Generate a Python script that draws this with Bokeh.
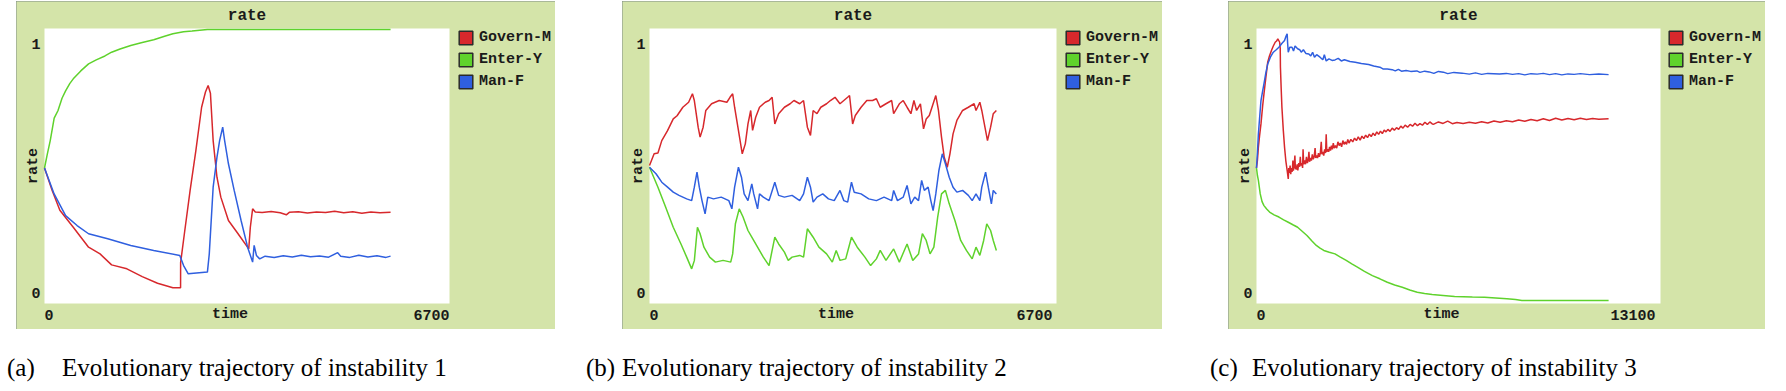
import math
import numpy as np
from bokeh.plotting import figure
from bokeh.models import Range1d, Legend, LegendItem, Div, BoxAnnotation
from bokeh.layouts import row, column
from bokeh.embed import file_html
from bokeh.resources import INLINE
from bokeh.core.properties import value

# ---------------- data (time, rate) ----------------
series_names = ["Govern-M", "Enter-Y", "Man-F"]
x_max = [6700, 6700, 13100]
y_ticks = [0, 1]
plot_title = "rate"
x_label = "time"
y_label = "rate"
captions = ["Evolutionary trajectory of instability 1",
            "Evolutionary trajectory of instability 2",
            "Evolutionary trajectory of instability 3"]
caption_tags = ["(a)", "(b)", "(c)"]

a_gov = [(0, .50), (127, .41), (254, .33), (476, .262), (729, .182), (919, .155), (1110, .111),
         (1363, .095), (1617, .064), (1870, .037), (2124, .019), (2251, .019), (2252, .12),
         (2314, .236), (2409, .41), (2504, .57), (2599, .744), (2663, .805), (2707, .831),
         (2745, .80), (2790, .61), (2853, .463), (2917, .383), (3043, .289), (3202, .236),
         (3379, .175), (3405, .262), (3443, .336), (3487, .323), (3600, .321), (3750, .325),
         (3900, .320), (4000, .312), (4050, .322), (4200, .324), (4350, .319), (4500, .323),
         (4650, .321), (4800, .326), (4950, .320), (5100, .324), (5250, .318), (5400, .323),
         (5550, .320), (5725, .322)]
a_ent = [(0, .50), (50, .56), (95, .61), (160, .70), (222, .73), (290, .78), (349, .81), (420, .84),
         (476, .858), (600, .89), (729, .918), (856, .934), (1000, .95), (1110, .965), (1250, .978),
         (1427, .992), (1600, 1.003), (1807, 1.015), (2000, 1.03), (2124, 1.039), (2300, 1.047),
         (2441, 1.05), (2695, 1.056), (5725, 1.056)]
a_man = [(0, .50), (159, .396), (349, .309), (539, .269), (729, .236), (1046, .216), (1427, .189),
         (1807, .169), (2238, .149), (2301, .108), (2378, .075), (2695, .082), (2726, .155),
         (2790, .423), (2853, .543), (2897, .61), (2948, .664), (2980, .61), (3043, .517),
         (3138, .41), (3252, .289), (3360, .182), (3443, .122), (3468, .189), (3506, .149),
         (3560, .135), (3650, .146), (3800, .141), (3950, .148), (4100, .143), (4250, .150),
         (4400, .144), (4550, .147), (4700, .142), (4850, .160), (4900, .146), (5050, .141),
         (5200, .150), (5350, .143), (5500, .148), (5650, .141), (5725, .146)]

b_gov = [(0, .51), (76, .557), (139, .56), (202, .61), (297, .65), (391, .697), (454, .71), (549, .744),
         (644, .764), (707, .798), (738, .771), (801, .664), (833, .624), (883, .664), (927, .731),
         (1022, .758), (1148, .771), (1274, .764), (1325, .784), (1369, .798), (1401, .744),
         (1464, .651), (1527, .557), (1577, .597), (1621, .677), (1666, .731), (1697, .651),
         (1748, .704), (1811, .744), (1905, .764), (1968, .771), (2019, .784), (2063, .677),
         (2126, .718), (2221, .744), (2315, .758), (2378, .771), (2473, .758), (2536, .771),
         (2599, .664), (2650, .631), (2694, .731), (2757, .718), (2820, .744), (2915, .758),
         (2978, .771), (3054, .784), (3136, .758), (3199, .771), (3262, .784), (3293, .791),
         (3344, .677), (3388, .711), (3483, .744), (3577, .771), (3672, .771), (3735, .778),
         (3798, .744), (3893, .758), (3987, .771), (4019, .718), (4113, .758), (4177, .771),
         (4240, .744), (4303, .718), (4353, .771), (4397, .731), (4460, .758), (4511, .657),
         (4555, .697), (4606, .711), (4669, .758), (4713, .791), (4757, .731), (4807, .624),
         (4852, .543), (4902, .503), (4946, .557), (4997, .637), (5060, .691), (5154, .731),
         (5249, .744), (5344, .758), (5375, .731), (5438, .764), (5470, .731), (5501, .691),
         (5564, .610), (5615, .664), (5659, .718), (5710, .731)]
b_ent = [(0, .503), (139, .423), (265, .343), (391, .262), (518, .195), (612, .142), (694, .095),
         (738, .128), (789, .262), (833, .236), (896, .182), (990, .142), (1085, .122), (1211, .129),
         (1337, .122), (1369, .155), (1414, .276), (1477, .336), (1540, .303), (1621, .249),
         (1684, .222), (1779, .182), (1874, .142), (1968, .108), (2063, .222), (2126, .195),
         (2221, .162), (2284, .129), (2347, .142), (2473, .149), (2536, .142), (2599, .256),
         (2694, .222), (2789, .182), (2915, .155), (3009, .122), (3073, .169), (3136, .129),
         (3230, .135), (3325, .222), (3420, .182), (3546, .142), (3640, .108), (3735, .135),
         (3798, .169), (3893, .129), (4019, .175), (4113, .122), (4240, .195), (4334, .129),
         (4429, .155), (4492, .236), (4555, .209), (4618, .155), (4681, .182), (4744, .303),
         (4807, .396), (4871, .410), (4934, .356), (5028, .289), (5123, .209), (5217, .169),
         (5312, .135), (5375, .182), (5438, .149), (5501, .209), (5552, .276), (5615, .249),
         (5659, .209), (5710, .169)]
b_man = [(0, .503), (107, .477), (202, .443), (297, .423), (391, .403), (486, .390), (612, .376),
         (694, .369), (738, .423), (782, .483), (820, .423), (864, .369), (915, .316), (959, .383),
         (1054, .376), (1180, .383), (1306, .369), (1356, .336), (1401, .423), (1464, .503),
         (1514, .463), (1558, .396), (1621, .369), (1684, .436), (1716, .396), (1779, .336),
         (1811, .396), (1874, .383), (1968, .369), (2063, .443), (2126, .390), (2221, .383),
         (2347, .390), (2473, .369), (2536, .396), (2599, .463), (2650, .423), (2694, .363),
         (2757, .383), (2852, .396), (2946, .376), (3041, .369), (3136, .410), (3199, .369),
         (3262, .363), (3325, .443), (3369, .403), (3483, .396), (3609, .376), (3735, .369),
         (3861, .383), (3987, .369), (4019, .410), (4082, .369), (4177, .383), (4240, .430),
         (4303, .356), (4366, .383), (4429, .369), (4480, .450), (4524, .410), (4587, .423),
         (4631, .369), (4669, .329), (4713, .396), (4764, .490), (4820, .557), (4871, .517),
         (4934, .463), (4997, .423), (5060, .403), (5154, .410), (5249, .390), (5312, .369),
         (5375, .396), (5438, .369), (5470, .423), (5533, .483), (5577, .423), (5628, .356),
         (5659, .410), (5710, .396)]

c_gov = [(0, .50), (30, .53), (61, .584), (100, .63), (145, .677), (200, .75), (242, .798), (300, .86),
         (364, .925), (420, .95), (485, .972), (545, .99), (606, 1.005), (650, 1.01), (691, 1.019),
         (751, 1.005), (770, .98), (776, .905), (800, .82), (824, .744), (870, .65), (909, .584),
         (950, .53), (994, .49), (1030, .456), (1045, .50), (1070, .48), (1090, .51), (1110, .475),
         (1130, .50), (1160, .485), (1180, .53), (1195, .49), (1220, .505), (1245, .55), (1260, .50),
         (1290, .495), (1320, .515), (1340, .49), (1370, .52), (1400, .505), (1420, .545), (1440, .51),
         (1470, .52), (1495, .50), (1510, .575), (1530, .515), (1560, .53), (1590, .515), (1620, .545),
         (1650, .52), (1680, .535), (1700, .565), (1720, .525), (1750, .54), (1780, .53), (1810, .555),
         (1840, .535), (1870, .545), (1900, .58), (1920, .54), (1950, .55), (1980, .54), (2010, .56),
         (2040, .545), (2070, .56), (2100, .605), (2120, .555), (2150, .565), (2180, .55), (2210, .575),
         (2240, .56), (2260, .635), (2280, .565), (2310, .575), (2340, .565), (2370, .585), (2400, .57),
         (2430, .59), (2460, .575), (2490, .60), (2520, .58), (2560, .59), (2600, .58), (2640, .605),
         (2680, .59), (2720, .60), (2760, .585), (2800, .61), (2840, .595), (2880, .605), (2920, .595),
         (2960, .615), (3000, .60), (3060, .615), (3120, .605), (3180, .62), (3240, .61), (3300, .625),
         (3360, .612), (3420, .628), (3480, .618), (3540, .632), (3600, .622), (3660, .636),
         (3720, .626), (3780, .64), (3840, .63), (3900, .645), (3960, .635), (4020, .648), (4080, .638),
         (4140, .652), (4200, .645), (4260, .655), (4330, .647), (4400, .66), (4470, .652), (4540, .662),
         (4610, .655), (4680, .668), (4750, .66), (4820, .672), (4900, .664), (4980, .675), (5060, .668),
         (5140, .68), (5220, .67), (5300, .678), (5380, .672), (5460, .684), (5540, .675), (5620, .685),
         (5700, .677), (5750, .676), (5900, .685), (6050, .679), (6200, .688), (6350, .678),
         (6500, .683), (6700, .679), (6900, .684), (7100, .680), (7300, .686), (7500, .681),
         (7700, .689), (7900, .684), (8100, .690), (8300, .686), (8500, .693), (8700, .688),
         (8900, .695), (9100, .690), (9300, .698), (9500, .691), (9700, .700), (9900, .693),
         (10100, .699), (10300, .694), (10500, .700), (10700, .695), (10900, .699), (11100, .696),
         (11417, .698)]
c_ent = [(0, .50), (30, .47), (61, .45), (121, .396), (180, .365), (242, .349), (330, .335), (424, .323),
         (570, .312), (727, .303), (880, .292), (1030, .282), (1180, .272), (1333, .262), (1480, .246),
         (1636, .229), (1790, .208), (1939, .189), (2060, .178), (2182, .169), (2360, .162), (2545, .155),
         (2720, .142), (2909, .129), (3090, .115), (3272, .102), (3500, .085), (3757, .068), (4000, .055),
         (4242, .041), (4480, .030), (4727, .021), (4970, .010), (5212, .001), (5450, -.004),
         (5696, -.008), (6050, -.012), (6424, -.016), (7000, -.018), (7393, -.019), (8120, -.025),
         (8400, -.028), (8605, -.032), (11417, -.032)]
c_man = [(0, .50), (30, .56), (61, .637), (100, .70), (145, .771), (200, .81), (242, .838), (300, .88),
         (364, .918), (450, .945), (545, .965), (640, .975), (727, .985), (820, 1.0), (909, 1.012),
         (960, 1.03), (994, 1.039), (1010, 1.0), (1030, .965), (1080, .985), (1151, .985), (1200, .97),
         (1250, .99), (1333, .979), (1400, .975), (1450, .965), (1520, .975), (1600, .96), (1697, .958),
         (1760, .95), (1820, .965), (1880, .945), (1950, .955), (2060, .945), (2150, .935), (2200, .955),
         (2260, .93), (2350, .938), (2450, .932), (2545, .934), (2650, .94), (2750, .93), (2850, .935),
         (3030, .928), (3200, .925), (3400, .92), (3636, .916), (3800, .91), (4000, .905), (4100, .898),
         (4242, .898), (4400, .895), (4500, .890), (4600, .896), (4700, .889), (4848, .892), (5000, .888),
         (5200, .890), (5300, .884), (5454, .889), (5600, .886), (5750, .880), (5900, .888), (6060, .885),
         (6200, .879), (6400, .884), (6666, .881), (6900, .877), (7100, .882), (7300, .876), (7500, .880),
         (7878, .878), (8100, .880), (8300, .876), (8500, .879), (8700, .874), (8900, .879), (9100, .877),
         (9300, .880), (9500, .875), (9700, .879), (9900, .874), (10100, .878), (10300, .876),
         (10500, .879), (10800, .875), (11100, .878), (11417, .875)]

panels_data = [(a_gov, a_ent, a_man), (b_gov, b_ent, b_man), (c_gov, c_ent, c_man)]

# ---------------- style / layout (pixels) ----------------
COLORS = ["#d7282c", "#5fd22c", "#2f5fdf"]
BOX = "#d4e4a9"
EDGE = "#7e8c86"
FONT = "Liberation Mono"
TXT = "#1a1a1a"
H = 328                      # panel height
Y_ONE, Y_ZERO = 42, 291      # pixel rows of rate 1 and rate 0 (from panel top)
Y_TOP, Y_BOT = 27, 302       # white plotting area
# per panel: (width, px of time 0, px width of the time span, left gap, legend x, max-label offset)
geom = [(539, 28, 405, 16, 441, 0), (540, 27, 407, 67, 442, -4), (537, 28, 404, 66, 439, -5)]


def make_panel(i):
    W, X0, XW, gap, leg_x, lab_off = geom[i]
    xm = x_max[i]
    k = xm / XW                       # time units per pixel
    rate = lambda ypx: (Y_ZERO - ypx) / (Y_ZERO - Y_ONE)
    tpx = lambda xpx: (xpx - X0) * k

    p = figure(width=W, height=H, min_border=0,
               x_range=Range1d(tpx(0), tpx(W)), y_range=Range1d(rate(H), rate(0)),
               x_axis_location=None, y_axis_location=None,
               output_backend="svg", toolbar_location=None, margin=(0, 0, 0, gap))
    p.styles = {"outline": "2px solid " + EDGE, "outline-offset": "-2px"}
    p.border_fill_color = BOX
    p.background_fill_color = BOX
    p.outline_line_color = None
    p.grid.visible = False

    # white plotting area of the NetLogo plot
    p.add_layout(BoxAnnotation(left=0, right=xm, bottom=rate(Y_BOT), top=rate(Y_TOP),
                               fill_color="white", fill_alpha=1, line_alpha=0, level="underlay"))

    common = dict(text_font=value(FONT), text_font_style="bold", text_color=TXT,
                  text_baseline="middle")
    # title
    p.text(x=[xm / 2], y=[rate(14)], text=[plot_title], text_align="center",
           text_font_size=value("16px"), **common)
    # y tick labels
    p.text(x=[0] * len(y_ticks), y=y_ticks, text=[str(t) for t in y_ticks], text_align="right",
           x_offset=-4, text_font_size=value("15px"), **common)
    # y label
    p.text(x=[tpx(X0 - 11)], y=[(rate(Y_TOP) + rate(Y_BOT)) / 2], text=[y_label],
           angle=math.pi / 2, text_align="center", text_font_size=value("15px"), **common)
    # x tick labels and x label
    yl = rate(313)
    p.text(x=[0], y=[yl], text=["0"], text_align="left", text_font_size=value("15px"), **common)
    p.text(x=[xm], y=[yl], text=[str(xm)], text_align="right", x_offset=lab_off,
           text_font_size=value("15px"), **common)
    p.text(x=[xm / 2], y=[yl], text=[x_label], text_align="center", x_offset=-17,
           text_font_size=value("15px"), **common)

    items = []
    for name, col, pts in zip(series_names, COLORS, panels_data[i]):
        ts = [q[0] for q in pts]
        vs = [q[1] for q in pts]
        p.line(ts, vs, line_color=col, line_width=1.5)
        sw = p.quad(left=np.array([np.nan]), right=np.array([np.nan]),
                    top=np.array([np.nan]), bottom=np.array([np.nan]),
                    fill_color=col, line_color="#2a2a2a", line_width=1.5)
        items.append(LegendItem(label=name, renderers=[sw]))
    leg = Legend(items=items, location=(leg_x, H - 28 - 61), orientation="vertical",
                 glyph_width=17, glyph_height=17, label_height=17, label_standoff=5,
                 spacing=5, padding=0, margin=0,
                 background_fill_alpha=0, border_line_alpha=0,
                 label_text_font=FONT, label_text_font_style="bold",
                 label_text_font_size="15px", label_text_color=TXT)
    p.add_layout(leg)
    return p


figs = [make_panel(i) for i in range(3)]

tag_left = [2, 581, 1205]
txt_left = [57, 617, 1247]
spans = ""
for i in range(3):
    spans += ('<span style="position:absolute;left:%dpx;top:16px;white-space:nowrap;">%s</span>'
              % (tag_left[i], caption_tags[i]))
    spans += ('<span style="position:absolute;left:%dpx;top:16px;white-space:nowrap;">%s</span>'
              % (txt_left[i], captions[i]))
cap = Div(text='<div style="position:relative;width:1770px;height:54px;'
               'font-family:\'Liberation Serif\',serif;font-size:25px;color:#000;">' + spans + '</div>',
          width=1770, height=54)

layout = column(row(*figs), cap, margin=(1, 0, 0, 0))

open("out.html", "w").write(file_html(layout, INLINE))
